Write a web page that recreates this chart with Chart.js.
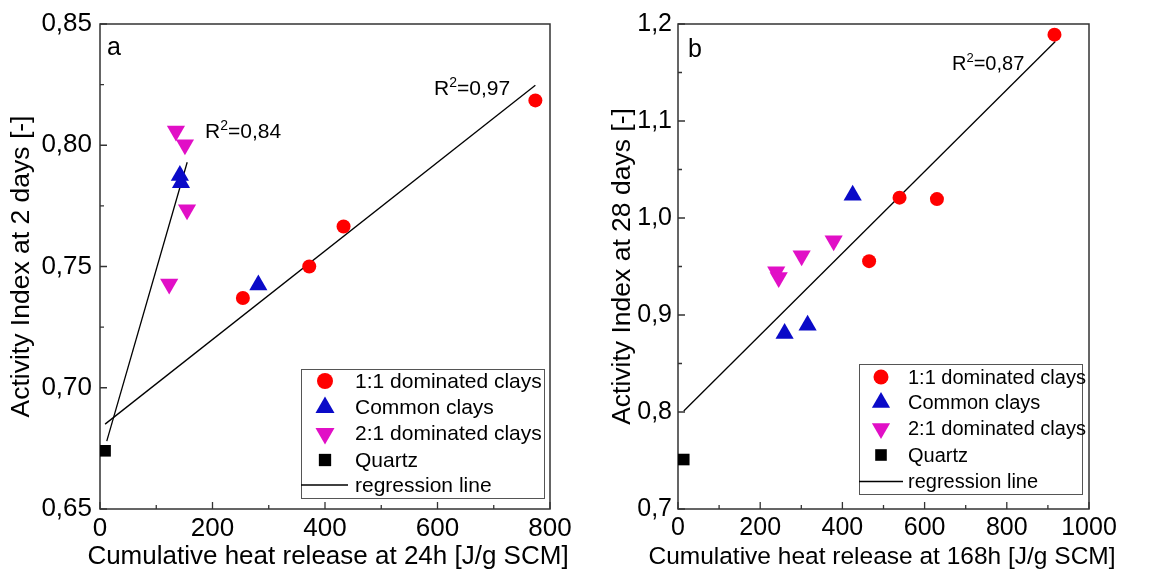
<!DOCTYPE html>
<html><head><meta charset="utf-8">
<script src="https://cdn.jsdelivr.net/npm/chart.js@4/dist/chart.umd.min.js"></script>
<style>
html,body{margin:0;padding:0;background:#fff;width:1170px;height:575px;overflow:hidden}
.wrap{position:absolute;top:0;width:585px;height:575px}
#wrapA{left:0}
#wrapB{left:585px}
</style></head><body>
<div id="wrapA" class="wrap"><canvas id="cA" width="585" height="575"></canvas></div>
<div id="wrapB" class="wrap"><canvas id="cB" width="585" height="575"></canvas></div>
<script>
// ---------- legend / series names ----------
const seriesNames = ['1:1 dominated clays', 'Common clays', '2:1 dominated clays', 'Quartz', 'regression line'];

// ---------- panel a : 2 days vs 24h heat ----------
const clay11XA = [254, 372, 433, 774];
const clay11YA = [0.737, 0.750, 0.7665, 0.8185];
const commonXA = [142, 144, 281.5];
const commonYA = [0.7875, 0.7845, 0.7424];
const clay21XA = [135, 151, 154.7, 123];
const clay21YA = [0.8059, 0.8002, 0.7734, 0.7428];
const quartzXA = [9];
const quartzYA = [0.674];
const regSteepXA = [12, 155];
const regSteepYA = [0.678, 0.793];
const regFlatXA = [9, 774];
const regFlatYA = [0.685, 0.8247];
const xTicksA = [0, 200, 400, 600, 800];
const xMinorA = [100, 300, 500, 700];
const yTicksA = [0.65, 0.70, 0.75, 0.80, 0.85];
const yTickLabelsA = ['0,65', '0,70', '0,75', '0,80', '0,85'];
const yMinorA = [0.675, 0.725, 0.775, 0.825];
const r2LabelsA = ['0,84', '0,97'];

// ---------- panel b : 28 days vs 168h heat ----------
const clay11XB = [916, 539, 630, 465];
const clay11YB = [1.189, 1.021, 1.0195, 0.9555];
const commonXB = [425, 259.4, 315.3];
const commonYB = [1.0235, 0.881, 0.8895];
const clay21XB = [378.7, 300.8, 239, 245];
const clay21YB = [0.9766, 0.9612, 0.9447, 0.9386];
const quartzXB = [14];
const quartzYB = [0.751];
const regXB = [14, 918];
const regYB = [0.801, 1.182];
const xTicksB = [0, 200, 400, 600, 800, 1000];
const xMinorB = [100, 300, 500, 700, 900];
const yTicksB = [0.7, 0.8, 0.9, 1.0, 1.1, 1.2];
const yTickLabelsB = ['0,7', '0,8', '0,9', '1,0', '1,1', '1,2'];
const yMinorB = [0.75, 0.85, 0.95, 1.05, 1.15];
const r2LabelsB = ['0,87'];

const FONT = '"Liberation Sans", Arial, Helvetica, sans-serif';
Chart.defaults.font.family = FONT;
Chart.defaults.color = '#000';

const RED = '#ff0000', BLUE = '#0a0ac8', MAG = '#e10fc6', BLK = '#000000';
const pts = (xs, ys) => xs.map((x, i) => ({x: x, y: ys[i]}));

function markerSet(label, xs, ys, color, style, radius, rotation) {
  return {label: label, data: pts(xs, ys), backgroundColor: color, borderColor: color,
    pointStyle: style, pointRadius: radius, pointHoverRadius: radius, pointRotation: rotation || 0,
    borderWidth: 0, showLine: false};
}
function lineSet(xs, ys) {
  return {label: seriesNames[4], data: pts(xs, ys), borderColor: '#000', borderWidth: 1.3,
    pointRadius: 0, showLine: true, fill: false, isRegression: true};
}

const panelPlugin = {
  id: 'panelDecor',
  beforeDatasetsDraw(chart) {
    const o = chart.options.plugins.panelDecor;
    const {ctx, chartArea: a} = chart;
    const xs = chart.scales.x, ys = chart.scales.y;
    ctx.save();
    ctx.strokeStyle = '#333';
    ctx.lineWidth = 1.5;
    ctx.strokeRect(a.left, a.top, a.right - a.left, a.bottom - a.top);
    ctx.lineWidth = 1.3;
    ctx.beginPath();
    o.xMajor.forEach(v => { const p = xs.getPixelForValue(v); ctx.moveTo(p, a.bottom); ctx.lineTo(p, a.bottom - 7); });
    o.xMinor.forEach(v => { const p = xs.getPixelForValue(v); ctx.moveTo(p, a.bottom); ctx.lineTo(p, a.bottom - 4); });
    o.yMajor.forEach(v => { const p = ys.getPixelForValue(v); ctx.moveTo(a.left, p); ctx.lineTo(a.left + 7, p); });
    o.yMinor.forEach(v => { const p = ys.getPixelForValue(v); ctx.moveTo(a.left, p); ctx.lineTo(a.left + 4, p); });
    ctx.stroke();
    ctx.restore();
  },
  afterDraw(chart) {
    const o = chart.options.plugins.panelDecor;
    const ctx = chart.ctx;
    ctx.save();
    // x axis title (drawn without width compression)
    ctx.fillStyle = '#000';
    ctx.textAlign = 'center';
    ctx.textBaseline = 'middle';
    ctx.font = o.xTitle.size + 'px ' + FONT;
    ctx.fillText(o.xTitle.text, o.xTitle.x, o.xTitle.y);
    // panel letter
    ctx.textBaseline = 'alphabetic';
    ctx.textAlign = 'left';
    ctx.font = o.letter.size + 'px ' + FONT;
    ctx.fillText(o.letter.text, o.letter.x, o.letter.y);
    // R^2 annotations
    o.r2.forEach(r => {
      let x = r.x;
      ctx.font = r.size + 'px ' + FONT;
      ctx.fillText('R', x, r.y);
      x += ctx.measureText('R').width;
      ctx.font = Math.round(r.size * 0.65) + 'px ' + FONT;
      ctx.fillText('2', x, r.y - r.size * 0.38);
      x += ctx.measureText('2').width;
      ctx.font = r.size + 'px ' + FONT;
      ctx.fillText('=' + r.text, x, r.y);
    });
    // legend
    const L = o.legend;
    ctx.strokeStyle = '#555';
    ctx.lineWidth = 1;
    ctx.strokeRect(L.x0 + 0.5, L.y0 + 0.5, L.x1 - L.x0, L.y1 - L.y0);
    const sets = chart.data.datasets.filter(d => !d.isRegression);
    sets.forEach((d, i) => {
      const y = L.rows[i];
      ctx.fillStyle = d.backgroundColor;
      Chart.helpers.drawPoint(ctx, {pointStyle: d.pointStyle, rotation: d.pointRotation,
        radius: L.radius[i], borderWidth: 0}, L.mx, y);
    });
    const yl = L.rows[4];
    ctx.strokeStyle = '#000';
    ctx.lineWidth = 1.3;
    ctx.beginPath();
    ctx.moveTo(L.x0, yl);
    ctx.lineTo(L.lineEnd, yl);
    ctx.stroke();
    ctx.fillStyle = '#000';
    ctx.textBaseline = 'middle';
    ctx.font = L.size + 'px ' + FONT;
    seriesNames.forEach((s, i) => ctx.fillText(s, L.tx, L.rows[i] + 1));
    ctx.restore();
  }
};

function makeChart(id, cfg) {
  const fmtY = v => {
    const k = cfg.yTicks.findIndex(t => Math.abs(t - v) < 1e-9);
    return k >= 0 ? cfg.yLabels[k] : '';
  };
  return new Chart(document.getElementById(id), {
    type: 'scatter',
    data: {datasets: cfg.datasets},
    options: {
      responsive: false,
      animation: false,
      events: [],
      layout: {padding: {left: 0, right: cfg.padRight, top: 24, bottom: 0}},
      scales: {
        x: {
          type: 'linear', position: 'bottom', min: cfg.xMin, max: cfg.xMax,
          afterFit: s => { s.height = 66; },
          afterBuildTicks: s => { s.ticks = cfg.xTicks.map(v => ({value: v})); },
          grid: {display: false, drawTicks: false},
          border: {display: false},
          ticks: {font: {size: cfg.tickSize}, color: '#000', padding: cfg.xTickPad, maxRotation: 0, autoSkip: false,
            callback: v => String(v)},
          title: {display: false}
        },
        y: {
          type: 'linear', position: 'left', min: cfg.yMin, max: cfg.yMax,
          afterFit: s => { s.width = cfg.yWidth; },
          afterBuildTicks: s => { s.ticks = cfg.yTicks.map(v => ({value: v})); },
          grid: {display: false, drawTicks: false},
          border: {display: false},
          ticks: {font: {size: cfg.tickSize}, color: '#000', padding: cfg.yTickPad, autoSkip: false, callback: fmtY},
          title: {display: true, text: cfg.yTitle, color: '#000', font: {size: cfg.yTitleSize},
            padding: {top: cfg.yTitlePad, bottom: 0}}
        }
      },
      plugins: {
        legend: {display: false},
        tooltip: {enabled: false},
        panelDecor: cfg.decor
      }
    },
    plugins: [panelPlugin]
  });
}

makeChart('cA', {
  datasets: [
    markerSet(seriesNames[0], clay11XA, clay11YA, RED, 'circle', 7),
    markerSet(seriesNames[1], commonXA, commonYA, BLUE, 'triangle', 10.5),
    markerSet(seriesNames[2], clay21XA, clay21YA, MAG, 'triangle', 10.5, 180),
    markerSet(seriesNames[3], quartzXA, quartzYA, BLK, 'rect', 8.2),
    lineSet(regSteepXA, regSteepYA),
    lineSet(regFlatXA, regFlatYA)
  ],
  padRight: 35, yWidth: 100,
  xMin: 0, xMax: 800, yMin: 0.65, yMax: 0.85,
  xTicks: xTicksA, yTicks: yTicksA, yLabels: yTickLabelsA,
  tickSize: 26, yTitleSize: 26.5, xTickPad: 4, yTickPad: 8, yTitlePad: 6,
  yTitle: 'Activity Index at 2 days [-]',
  decor: {
    xTitle: {text: 'Cumulative heat release at 24h [J/g SCM]', x: 328, y: 557, size: 26},
    xMajor: xTicksA, xMinor: xMinorA, yMajor: yTicksA, yMinor: yMinorA,
    letter: {text: 'a', x: 107, y: 55, size: 25},
    r2: [{text: r2LabelsA[0], x: 205, y: 138, size: 21}, {text: r2LabelsA[1], x: 434, y: 95, size: 21}],
    legend: {x0: 301, y0: 369, x1: 544, y1: 498, rows: [381, 407.5, 433.5, 460, 485],
      mx: 325, tx: 355, lineEnd: 348, size: 21, radius: [8, 11, 11, 8.7]}
  }
});

makeChart('cB', {
  datasets: [
    markerSet(seriesNames[0], clay11XB, clay11YB, RED, 'circle', 7),
    markerSet(seriesNames[1], commonXB, commonYB, BLUE, 'triangle', 10.5),
    markerSet(seriesNames[2], clay21XB, clay21YB, MAG, 'triangle', 10.5, 180),
    markerSet(seriesNames[3], quartzXB, quartzYB, BLK, 'rect', 8.2),
    lineSet(regXB, regYB)
  ],
  padRight: 81, yWidth: 93,
  xMin: 0, xMax: 1000, yMin: 0.7, yMax: 1.2,
  xTicks: xTicksB, yTicks: yTicksB, yLabels: yTickLabelsB,
  tickSize: 25, yTitleSize: 26.5, xTickPad: 4, yTickPad: 6, yTitlePad: 22,
  yTitle: 'Activity Index at 28 days [-]',
  decor: {
    xTitle: {text: 'Cumulative heat release at 168h [J/g SCM]', x: 297, y: 557.5, size: 24.5},
    xMajor: xTicksB, xMinor: xMinorB, yMajor: yTicksB, yMinor: yMinorB,
    letter: {text: 'b', x: 103, y: 57, size: 25},
    r2: [{text: r2LabelsB[0], x: 367, y: 70, size: 20}],
    legend: {x0: 274, y0: 364, x1: 497, y1: 494, rows: [377, 402.5, 428.5, 455, 481.5],
      mx: 296, tx: 323, lineEnd: 318, size: 20, radius: [7.5, 10.5, 10.5, 8.2]}
  }
});
</script>
</body></html>
